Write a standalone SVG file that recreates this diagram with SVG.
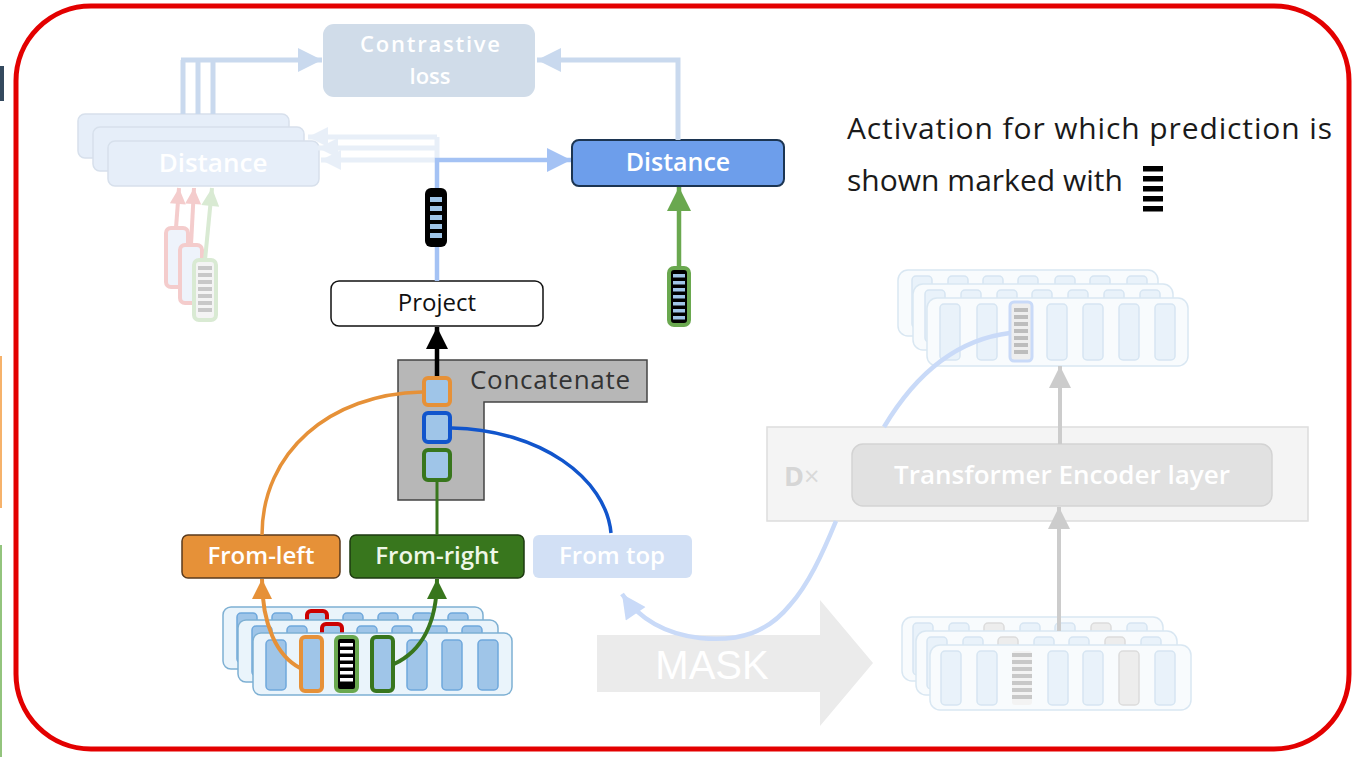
<svg xmlns="http://www.w3.org/2000/svg" width="1359" height="757" viewBox="0 0 1359 757">
  <style>
    text { font-family: "Open Sans", "Noto Sans", sans-serif; }
    .lbl { font-size: 24px; text-anchor: middle; }
    .wht { fill: #ffffff; font-weight: 600; }
    .tok { fill: #9fc5e8; stroke: #6fa8dc; stroke-width: 1.5; }
    .tokf { fill: #e9f2fa; stroke: #d6e5f2; stroke-width: 1.5; }
    .tokg { fill: #ededed; stroke: #dcdcdc; stroke-width: 1.5; }
    .row { fill: #eaf4fb; stroke: #7eb0d3; stroke-width: 1.5; }
    .rowf { fill: #f8fbfd; stroke: #d9e7f2; stroke-width: 1.5; }
    .faint { fill: none; stroke: #c9d9ee; stroke-width: 5; }
    .ghost { fill: none; stroke: #e8eff8; stroke-width: 5; }
    .sky { fill: none; stroke: #c9daf8; stroke-width: 4.5; }
  </style>
  <defs>
    <marker id="ahLight" viewBox="0 0 10 10" refX="10" refY="5" markerUnits="userSpaceOnUse" markerWidth="28" markerHeight="24" orient="auto"><path d="M0,0 L10,5 L0,10 z" fill="#c9d9ee"/></marker>
    <marker id="ahGhost" viewBox="0 0 10 10" refX="10" refY="5" markerUnits="userSpaceOnUse" markerWidth="24" markerHeight="20" orient="auto"><path d="M0,0 L10,5 L0,10 z" fill="#e8eff8"/></marker>
    <marker id="ahBlue" viewBox="0 0 10 10" refX="10" refY="5" markerUnits="userSpaceOnUse" markerWidth="28" markerHeight="24" orient="auto"><path d="M0,0 L10,5 L0,10 z" fill="#a4c2f4"/></marker>
    <marker id="ahSky" viewBox="0 0 10 10" refX="10" refY="5" markerUnits="userSpaceOnUse" markerWidth="28" markerHeight="24" orient="auto"><path d="M0,0 L10,5 L0,10 z" fill="#c9daf8"/></marker>
    <marker id="ahGreen" viewBox="0 0 10 10" refX="10" refY="5" markerUnits="userSpaceOnUse" markerWidth="30" markerHeight="24" orient="auto"><path d="M0,0 L10,5 L0,10 z" fill="#6aa84f"/></marker>
    <marker id="ahDkGreen" viewBox="0 0 10 10" refX="10" refY="5" markerUnits="userSpaceOnUse" markerWidth="24" markerHeight="20" orient="auto"><path d="M0,0 L10,5 L0,10 z" fill="#38761d"/></marker>
    <marker id="ahOrange" viewBox="0 0 10 10" refX="10" refY="5" markerUnits="userSpaceOnUse" markerWidth="24" markerHeight="20" orient="auto"><path d="M0,0 L10,5 L0,10 z" fill="#e69138"/></marker>
    <marker id="ahBlack" viewBox="0 0 10 10" refX="10" refY="5" markerUnits="userSpaceOnUse" markerWidth="26" markerHeight="22" orient="auto"><path d="M0,0 L10,5 L0,10 z" fill="#000000"/></marker>
    <marker id="ahGray" viewBox="0 0 10 10" refX="10" refY="5" markerUnits="userSpaceOnUse" markerWidth="30" markerHeight="22" orient="auto"><path d="M0,0 L10,5 L0,10 z" fill="#cccccc"/></marker>
    <marker id="ahRed" viewBox="0 0 10 10" refX="10" refY="5" markerUnits="userSpaceOnUse" markerWidth="18" markerHeight="16" orient="auto"><path d="M0,0 L10,5 L0,10 z" fill="#f4cccc"/></marker>
    <marker id="ahPaleGreen" viewBox="0 0 10 10" refX="10" refY="5" markerUnits="userSpaceOnUse" markerWidth="22" markerHeight="18" orient="auto"><path d="M0,0 L10,5 L0,10 z" fill="#d9ead3"/></marker>
  </defs>

  <rect width="1359" height="757" fill="#ffffff"/>

  <!-- slivers at the left edge -->
  <rect x="0" y="66" width="4" height="35" fill="#34495e"/>
  <rect x="0" y="356" width="2" height="152" fill="#f6b26b"/>
  <rect x="0" y="545" width="2" height="212" fill="#93c47d"/>

  <!-- red frame -->
  <rect x="16" y="6" width="1333" height="743" rx="75" fill="none" stroke="#e30000" stroke-width="5"/>

  <!-- contrastive loss -->
  <g id="contrastive-loss">
    <rect x="323" y="24" width="212" height="73" rx="11" fill="#d0dce9"/>
    <text class="wht" font-size="22" text-anchor="middle" textLength="140" lengthAdjust="spacing" x="430" y="52">Contrastive</text>
    <text class="wht" font-size="22" text-anchor="middle" x="430" y="84">loss</text>
  </g>

  <!-- stacked faded distances -->
  <g id="distance-stack">
    <rect x="78" y="114" width="211" height="44" rx="7" fill="#e6eef9" stroke="#d7e0ec" stroke-width="1.5"/>
    <rect x="93" y="127" width="211" height="44" rx="7" fill="#e6eef9" stroke="#d7e0ec" stroke-width="1.5"/>
    <rect x="108" y="141" width="211" height="45" rx="7" fill="#e6eef9" stroke="#d7e0ec" stroke-width="1.5"/>
    <text class="lbl wht" x="213" y="172" style="font-size:26px">Distance</text>
  </g>

  <!-- faded tokens feeding the stacked distances -->
  <g id="faded-tokens">
    <rect x="166" y="228" width="22" height="59" rx="5" fill="#eef3fb" stroke="#f4cccc" stroke-width="4"/>
    <rect x="180" y="245" width="22" height="58" rx="5" fill="#eef3fb" stroke="#f4cccc" stroke-width="4"/>
    <rect x="194" y="260" width="22" height="60" rx="5" fill="#f4f4f4" stroke="#d9ead3" stroke-width="4"/>
    <g fill="#c8c8c8">
      <rect x="198" y="266" width="14" height="4"/><rect x="198" y="273" width="14" height="4"/>
      <rect x="198" y="280" width="14" height="4"/><rect x="198" y="287" width="14" height="4"/>
      <rect x="198" y="294" width="14" height="4"/><rect x="198" y="301" width="14" height="4"/>
      <rect x="198" y="308" width="14" height="4"/>
    </g>
  </g>

  <!-- active distance -->
  <g id="distance">
    <rect x="572" y="140" width="212" height="46" rx="7" fill="#6d9eeb" stroke="#1c3552" stroke-width="2"/>
    <text class="lbl wht" x="678" y="171" style="font-size:25px">Distance</text>
  </g>

  <!-- projected activation -->
  <g id="projected-token">
    <rect x="425" y="188" width="22" height="59" rx="6" fill="#000000"/>
    <g fill="#9fc5e8">
      <rect x="430" y="197" width="12" height="5"/><rect x="430" y="206" width="12" height="5"/>
      <rect x="430" y="215" width="12" height="5"/><rect x="430" y="224" width="12" height="5"/>
      <rect x="430" y="233" width="12" height="5"/>
    </g>
  </g>

  <!-- target activation -->
  <g id="target-token">
    <rect x="669" y="268" width="20" height="57" rx="5" fill="#000000" stroke="#6aa84f" stroke-width="4"/>
    <g fill="#9fc5e8">
      <rect x="673" y="274" width="12" height="3.5"/><rect x="673" y="281" width="12" height="3.5"/>
      <rect x="673" y="288" width="12" height="3.5"/><rect x="673" y="295" width="12" height="3.5"/>
      <rect x="673" y="302" width="12" height="3.5"/><rect x="673" y="309" width="12" height="3.5"/>
      <rect x="673" y="316" width="12" height="3.5"/>
    </g>
  </g>

  <!-- project -->
  <g id="project">
    <rect x="331" y="281" width="212" height="45" rx="8" fill="#ffffff" stroke="#111111" stroke-width="1.5"/>
    <text class="lbl" x="437" y="311" fill="#111111">Project</text>
  </g>

  <!-- concatenate -->
  <g id="concatenate">
    <polygon points="398,360 647,360 647,402 484,402 484,500 398,500" fill="#b7b7b7" stroke="#444444" stroke-width="1.5"/>
    <text x="470" y="389" font-size="26" fill="#333333" textLength="160" lengthAdjust="spacing">Concatenate</text>
    <rect x="424" y="378" width="26" height="27" rx="4" fill="#9fc5e8" stroke="#e69138" stroke-width="4"/>
    <rect x="424" y="413" width="26" height="29" rx="4" fill="#9fc5e8" stroke="#1155cc" stroke-width="4"/>
    <rect x="424" y="450" width="26" height="30" rx="4" fill="#9fc5e8" stroke="#38761d" stroke-width="4"/>
  </g>

  <!-- directional heads -->
  <g id="from-left">
    <rect x="182" y="535" width="158" height="43" rx="6" fill="#e69138" stroke="#5a3a1c" stroke-width="1.5"/>
    <text class="lbl wht" x="261" y="564">From-left</text>
  </g>
  <g id="from-right">
    <rect x="350" y="535" width="174" height="43" rx="6" fill="#38761d" stroke="#1d3a10" stroke-width="1.5"/>
    <text class="lbl wht" x="437" y="564" style="fill:#eef7e8">From-right</text>
  </g>
  <g id="from-top">
    <rect x="533" y="535" width="159" height="43" rx="6" fill="#d2e0f5"/>
    <text class="lbl wht" x="612" y="564">From top</text>
  </g>

  <!-- input token stack -->
  <g id="input-stack">
    <rect class="row" x="223" y="607" width="260" height="62" rx="8"/>
    <g>
      <rect class="tok" x="237" y="613" width="20" height="50" rx="4"/>
      <rect class="tok" x="272" y="613" width="20" height="50" rx="4"/>
      <rect x="307" y="611" width="20" height="52" rx="4" fill="#9fc5e8" stroke="#cc0000" stroke-width="4"/>
      <rect class="tok" x="343" y="613" width="20" height="50" rx="4"/>
      <rect class="tok" x="378" y="613" width="20" height="50" rx="4"/>
      <rect class="tok" x="413" y="613" width="20" height="50" rx="4"/>
      <rect class="tok" x="448" y="613" width="20" height="50" rx="4"/>
    </g>
    <rect class="row" x="238" y="620" width="260" height="62" rx="8"/>
    <g>
      <rect class="tok" x="252" y="626" width="20" height="50" rx="4"/>
      <rect class="tok" x="287" y="626" width="20" height="50" rx="4"/>
      <rect x="322" y="624" width="20" height="52" rx="4" fill="#9fc5e8" stroke="#cc0000" stroke-width="4"/>
      <rect class="tok" x="357" y="626" width="20" height="50" rx="4"/>
      <rect class="tok" x="392" y="626" width="20" height="50" rx="4"/>
      <rect class="tok" x="427" y="626" width="20" height="50" rx="4"/>
      <rect class="tok" x="462" y="626" width="20" height="50" rx="4"/>
    </g>
    <rect class="row" x="253" y="633" width="259" height="62" rx="8"/>
    <g>
      <rect class="tok" x="266" y="640" width="20" height="50" rx="4"/>
      <rect x="301" y="637" width="21" height="54" rx="4" fill="#9fc5e8" stroke="#e69138" stroke-width="4"/>
      <rect x="336" y="637" width="21" height="54" rx="4" fill="#000000" stroke="#6aa84f" stroke-width="4"/>
      <rect x="372" y="637" width="21" height="54" rx="4" fill="#9fc5e8" stroke="#38761d" stroke-width="4"/>
      <rect class="tok" x="407" y="640" width="20" height="50" rx="4"/>
      <rect class="tok" x="442" y="640" width="20" height="50" rx="4"/>
      <rect class="tok" x="478" y="640" width="20" height="50" rx="4"/>
      <g fill="#ffffff">
        <rect x="340" y="643" width="13" height="3.5"/><rect x="340" y="650" width="13" height="3.5"/>
        <rect x="340" y="657" width="13" height="3.5"/><rect x="340" y="664" width="13" height="3.5"/>
        <rect x="340" y="671" width="13" height="3.5"/><rect x="340" y="678" width="13" height="3.5"/>
      </g>
    </g>
  </g>

  <!-- mask arrow -->
  <g id="mask">
    <polygon points="597,635 820,635 820,600 873,663 820,726 820,692 597,692" fill="#ebebeb"/>
    <text x="712" y="679" font-size="40" fill="#ffffff" text-anchor="middle" style="font-family:'Liberation Sans', Arial, sans-serif">MASK</text>
  </g>

  <!-- masked input token stack -->
  <g id="masked-stack">
    <rect class="rowf" x="902" y="617" width="261" height="64" rx="10"/>
    <g>
      <rect class="tokf" x="913" y="623" width="20" height="52" rx="4"/>
      <rect class="tokf" x="949" y="623" width="20" height="52" rx="4"/>
      <rect class="tokg" x="984" y="623" width="20" height="52" rx="4"/>
      <rect class="tokf" x="1020" y="623" width="20" height="52" rx="4"/>
      <rect class="tokf" x="1055" y="623" width="20" height="52" rx="4"/>
      <rect class="tokg" x="1091" y="623" width="20" height="52" rx="4"/>
      <rect class="tokf" x="1127" y="623" width="20" height="52" rx="4"/>
    </g>
    <rect class="rowf" x="916" y="631" width="261" height="64" rx="10"/>
    <g>
      <rect class="tokf" x="927" y="637" width="20" height="52" rx="4"/>
      <rect class="tokf" x="963" y="637" width="20" height="52" rx="4"/>
      <rect class="tokg" x="998" y="637" width="20" height="52" rx="4"/>
      <rect class="tokf" x="1034" y="637" width="20" height="52" rx="4"/>
      <rect class="tokf" x="1069" y="637" width="20" height="52" rx="4"/>
      <rect class="tokg" x="1105" y="637" width="20" height="52" rx="4"/>
      <rect class="tokf" x="1141" y="637" width="20" height="52" rx="4"/>
    </g>
    <rect class="rowf" x="930" y="645" width="261" height="65" rx="10"/>
    <g>
      <rect class="tokf" x="941" y="651" width="20" height="54" rx="4"/>
      <rect class="tokf" x="977" y="651" width="20" height="54" rx="4"/>
      <rect x="1012" y="651" width="20" height="54" rx="3" fill="#f3f3f3"/>
      <rect class="tokf" x="1048" y="651" width="20" height="54" rx="4"/>
      <rect class="tokf" x="1083" y="651" width="20" height="54" rx="4"/>
      <rect class="tokg" x="1119" y="651" width="20" height="54" rx="4"/>
      <rect class="tokf" x="1155" y="651" width="20" height="54" rx="4"/>
      <g fill="#c8c8c8">
        <rect x="1012" y="653" width="20" height="4"/><rect x="1012" y="660" width="20" height="4"/>
        <rect x="1012" y="667" width="20" height="4"/><rect x="1012" y="674" width="20" height="4"/>
        <rect x="1012" y="681" width="20" height="4"/><rect x="1012" y="688" width="20" height="4"/>
        <rect x="1012" y="695" width="20" height="4"/>
      </g>
    </g>
  </g>

  <!-- transformer encoder block -->
  <g id="transformer">
    <rect x="767" y="427" width="541" height="94" fill="#f4f4f4" stroke="#dddddd" stroke-width="1.5"/>
    <text x="784" y="486" font-size="27" fill="#d6d6d6" font-weight="700">D<tspan font-weight="400" fill="#d9d9d9">×</tspan></text>
    <rect x="852" y="444" width="420" height="62" rx="11" fill="#e1e1e1" stroke="#d3d3d3" stroke-width="1.5"/>
    <text class="wht" x="1062" y="484" font-size="26" text-anchor="middle">Transformer Encoder layer</text>
  </g>

  <!-- encoder output stack -->
  <g id="output-stack">
    <rect class="rowf" x="898" y="270" width="260" height="66" rx="10"/>
    <g>
      <rect class="tokf" x="912" y="276" width="20" height="52" rx="4"/>
      <rect class="tokf" x="948" y="276" width="20" height="52" rx="4"/>
      <rect class="tokf" x="983" y="276" width="20" height="52" rx="4"/>
      <rect class="tokf" x="1018" y="276" width="20" height="52" rx="4"/>
      <rect class="tokf" x="1055" y="276" width="20" height="52" rx="4"/>
      <rect class="tokf" x="1090" y="276" width="20" height="52" rx="4"/>
      <rect class="tokf" x="1127" y="276" width="20" height="52" rx="4"/>
    </g>
    <rect class="rowf" x="913" y="284" width="260" height="66" rx="10"/>
    <g>
      <rect class="tokf" x="925" y="290" width="20" height="52" rx="4"/>
      <rect class="tokf" x="961" y="290" width="20" height="52" rx="4"/>
      <rect class="tokf" x="997" y="290" width="20" height="52" rx="4"/>
      <rect class="tokf" x="1032" y="290" width="20" height="52" rx="4"/>
      <rect class="tokf" x="1068" y="290" width="20" height="52" rx="4"/>
      <rect class="tokf" x="1104" y="290" width="20" height="52" rx="4"/>
      <rect class="tokf" x="1140" y="290" width="20" height="52" rx="4"/>
    </g>
    <rect class="rowf" x="927" y="298" width="261" height="68" rx="10"/>
    <g>
      <rect class="tokf" x="940" y="304" width="20" height="56" rx="4"/>
      <rect class="tokf" x="977" y="304" width="20" height="56" rx="4"/>
      <rect x="1010" y="302" width="22" height="59" rx="4" fill="#eeeeee" stroke="#c9daf8" stroke-width="3"/>
      <rect class="tokf" x="1047" y="304" width="20" height="56" rx="4"/>
      <rect class="tokf" x="1083" y="304" width="20" height="56" rx="4"/>
      <rect class="tokf" x="1119" y="304" width="20" height="56" rx="4"/>
      <rect class="tokf" x="1155" y="304" width="20" height="56" rx="4"/>
      <g fill="#bdbdbd">
        <rect x="1014" y="308" width="14" height="4"/><rect x="1014" y="315" width="14" height="4"/>
        <rect x="1014" y="322" width="14" height="4"/><rect x="1014" y="329" width="14" height="4"/>
        <rect x="1014" y="336" width="14" height="4"/><rect x="1014" y="343" width="14" height="4"/>
        <rect x="1014" y="350" width="14" height="4"/>
      </g>
    </g>
  </g>

  <!-- legend -->
  <g id="legend">
    <text x="847" y="139" font-size="30" fill="#1a1a1a" textLength="485" lengthAdjust="spacing">Activation for which prediction is</text>
    <text x="847" y="191" font-size="30" fill="#1a1a1a" textLength="276" lengthAdjust="spacing">shown marked with</text>
    <g fill="#000000">
      <rect x="1143" y="166" width="20" height="5.5"/><rect x="1143" y="176" width="20" height="5.5"/>
      <rect x="1143" y="186" width="20" height="5.5"/><rect x="1143" y="196" width="20" height="5.5"/>
      <rect x="1143" y="206" width="20" height="5.5"/>
    </g>
  </g>

  <!-- connectors -->
  <g id="connectors">
    <!-- stacked distances to contrastive loss -->
    <path class="faint" d="M183,114 V60 M198,114 V60 M213,114 V60"/>
    <path class="faint" d="M181,60 H322" marker-end="url(#ahLight)"/>
    <path class="faint" d="M678,140 V60 H537" marker-end="url(#ahLight)"/>
    <!-- faint copies back to the stacked distances -->
    <path class="ghost" d="M437,137 V160"/>
    <path class="ghost" d="M437,137 H308" marker-end="url(#ahGhost)"/>
    <path class="ghost" d="M437,148 H318" marker-end="url(#ahGhost)"/>
    <path class="ghost" d="M437,160 H321" marker-end="url(#ahGhost)"/>
    <!-- projection to distance, passing behind the projected token -->
    <path d="M437,281 V247" fill="none" stroke="#a4c2f4" stroke-width="4.5"/>
    <path d="M437,188 V160 H571" fill="none" stroke="#a4c2f4" stroke-width="4.5" marker-end="url(#ahBlue)"/>
    <!-- target token to distance -->
    <path d="M679,267 V187" fill="none" stroke="#6aa84f" stroke-width="4.5" marker-end="url(#ahGreen)"/>
    <!-- concatenate to project -->
    <path d="M437,376 V327" fill="none" stroke="#000000" stroke-width="4.5" marker-end="url(#ahBlack)"/>
    <!-- branches into concatenate -->
    <path d="M422,392 C330,394 262,452 262,535" fill="none" stroke="#e69138" stroke-width="3.5"/>
    <path d="M452,428 C540,430 606,478 611,533" fill="none" stroke="#1155cc" stroke-width="3.5"/>
    <path d="M437,482 V535" fill="none" stroke="#38761d" stroke-width="3"/>
    <!-- tokens to directional heads -->
    <path d="M300,668 C277,656 262,625 262,579" fill="none" stroke="#e69138" stroke-width="4" marker-end="url(#ahOrange)"/>
    <path d="M394,664 C420,652 437,625 437,579" fill="none" stroke="#38761d" stroke-width="4" marker-end="url(#ahDkGreen)"/>
    <!-- top-down context back to From top (hidden while crossing the encoder block) -->
    <path class="sky" d="M1010,333 C952,340 912,380 884,427"/>
    <path class="sky" d="M836,521 C822,555 808,585 790,605 C768,632 740,642 700,638 C665,634 640,620 622,594" marker-end="url(#ahSky)"/>
    <!-- gray arrows through the encoder -->
    <path d="M1059,631 V507" fill="none" stroke="#cccccc" stroke-width="4" marker-end="url(#ahGray)"/>
    <path d="M1060,444 V366" fill="none" stroke="#cccccc" stroke-width="4" marker-end="url(#ahGray)"/>
    <!-- faded red/green arrows into the stacked distances -->
    <path d="M176,228 L179,188" fill="none" stroke="#f4cccc" stroke-width="4" marker-end="url(#ahRed)"/>
    <path d="M191,245 L194,188" fill="none" stroke="#f4cccc" stroke-width="4" marker-end="url(#ahRed)"/>
    <path d="M205,260 L212,188" fill="none" stroke="#d9ead3" stroke-width="4" marker-end="url(#ahPaleGreen)"/>
  </g>
</svg>
